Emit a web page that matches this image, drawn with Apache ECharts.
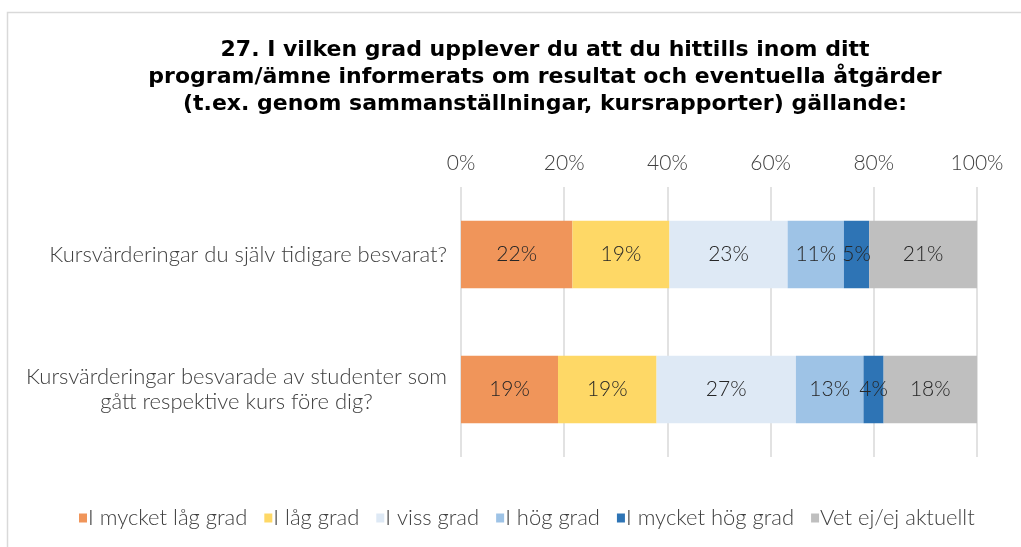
<!DOCTYPE html>
<html>
<head>
<meta charset="utf-8">
<script src="https://cdn.jsdelivr.net/npm/echarts@6/dist/echarts.min.js"></script>
<style>
	html, body { margin: 0; padding: 0; background: #fff; }
	#chart { width: 1021px; height: 547px; }
</style>
</head>
<body>
<div id="chart"></div>
<script>
const categories = [
	"Kursvärderingar du själv tidigare besvarat?",
	"Kursvärderingar besvarade av studenter som\ngått respektive kurs före dig?",
];
const seriesNames = [
	"I mycket låg grad",
	"I låg grad",
	"I viss grad",
	"I hög grad",
	"I mycket hög grad",
	"Vet ej/ej aktuellt",
];
// andelar i procent, per kategori
const veryLow = [21.6, 18.8];
const low = [18.8, 19.1];
const some = [22.9, 27.0];
const high = [10.9, 13.1];
const veryHigh = [4.9, 3.9];
const dontKnow = [20.9, 18.1];
const tickLabels = ["0%", "20%", "40%", "60%", "80%", "100%"];

const colors = ["#F0955A", "#FED866", "#DEE9F5", "#9EC3E6", "#2E74B5", "#BFBFBF"];
const values = [veryLow, low, some, high, veryHigh, dontKnow];
const font = "Lato, 'Open Sans', sans-serif";
const titleFont = "'DejaVu Sans', sans-serif";
const textColor = "#262626";
const axisColor = "#404040";

var chart = echarts.init(document.getElementById("chart"));

const option = {
	animation: false,
	color: colors,
	textStyle: { fontFamily: font },
	graphic: [
		{
			type: "rect",
			shape: { x: 7.5, y: 12.5, width: 1030, height: 560 },
			style: { fill: "none", stroke: "#D9D9D9", lineWidth: 1.5 },
			silent: true,
		},
	],
	title: {
		text: "27. I vilken grad upplever du att du hittills inom ditt\nprogram/ämne informerats om resultat och eventuella åtgärder\n(t.ex. genom sammanställningar, kursrapporter) gällande:",
		left: 540,
		top: 32,
		textAlign: "center",
		textStyle: {
			fontFamily: titleFont,
			fontSize: 22,
			fontWeight: "bold",
			color: "#000",
			lineHeight: 27,
		},
	},
	legend: {
		bottom: 13,
		left: 74,
		itemWidth: 8,
		itemHeight: 9,
		itemGap: 17,
		icon: "rect",
		data: seriesNames,
		textStyle: { fontFamily: font, fontSize: 22, fontWeight: 300, color: axisColor, padding: [0, 0, 0, -4] },
	},
	grid: { left: 461, right: 44, top: 187, bottom: 90 },
	xAxis: {
		type: "value",
		position: "top",
		min: 0,
		max: 100,
		interval: 20,
		axisLine: { show: false },
		axisTick: { show: false },
		splitLine: { lineStyle: { color: "#D9D9D9", width: 1.5 } },
		axisLabel: {
			margin: 13,
			fontSize: 21,
			fontWeight: 300,
			color: axisColor,
			formatter: (v) => tickLabels[v / 20],
		},
	},
	yAxis: {
		type: "category",
		inverse: true,
		data: categories,
		axisLine: { show: false },
		axisTick: { show: false },
		axisLabel: {
			margin: 14,
			formatter: (v) =>
				v
					.split("\n")
					.map((line) => "{c|" + line + "}")
					.join("\n"),
			rich: {
				c: { align: "center", fontSize: 22, fontWeight: 300, color: axisColor, fontFamily: font, lineHeight: 25 },
			},
		},
	},
	series: seriesNames.map((name, i) => ({
		name: name,
		type: "bar",
		stack: "total",
		barWidth: "50%",
		data: values[i],
		label: {
			show: true,
			position: "inside",
			fontSize: 21,
			fontWeight: 300,
			color: textColor,
			fontFamily: font,
			formatter: (p) => Math.round(p.value) + "%",
		},
	})),
};

chart.setOption(option);
</script>
</body>
</html>
